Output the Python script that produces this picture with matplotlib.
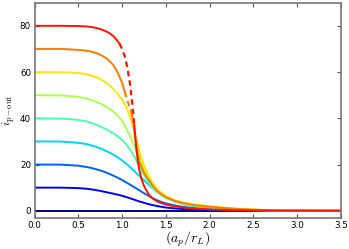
import matplotlib
matplotlib.use("Agg")
import matplotlib.pyplot as plt
import numpy as np

plt.rcParams["mathtext.fontset"] = "cm"

# plateau values of each curve
plateaus = [0, 10, 20, 30, 40, 50, 60, 70, 80]

# curve samples (x = a_p/r_L, y = i_p-out)
x_common = [0.0, 0.3, 0.5, 0.6, 0.65, 0.7, 0.75, 0.8, 0.85, 0.9, 0.95, 1.0, 1.05, 1.1, 1.15,
            1.2, 1.25, 1.3, 1.35, 1.4, 1.45, 1.5, 1.6, 1.7, 1.8, 1.9, 2.0, 2.2, 2.4, 2.6,
            2.8, 3.0, 3.25, 3.5]
y_0 = [0.0] * len(x_common)
y_10 = [10.0, 10.0, 9.8, 9.5, 9.25, 8.95, 8.6, 8.2, 7.8, 7.4, 6.95, 6.5, 5.9, 5.3, 4.65,
        4.0, 3.45, 2.9, 2.45, 2.05, 1.7, 1.4, 1.0, 0.75, 0.58, 0.47, 0.38, 0.24, 0.15, 0.09,
        0.05, 0.03, 0.01, 0.0]
y_20 = [20.0, 19.95, 19.5, 18.9, 18.5, 18.0, 17.45, 16.8, 16.05, 15.2, 14.3, 13.3, 12.2, 11.1, 9.95,
        8.8, 7.6, 6.5, 5.45, 4.55, 3.8, 3.2, 2.3, 1.65, 1.2, 0.9, 0.68, 0.4, 0.24, 0.14,
        0.08, 0.05, 0.02, 0.0]
y_30 = [30.0, 29.95, 29.4, 28.8, 28.3, 27.7, 27.0, 26.2, 25.3, 24.3, 23.1, 21.8, 20.3, 18.6, 16.8,
        15.0, 13.2, 11.4, 9.7, 8.2, 6.9, 5.8, 4.1, 2.9, 2.05, 1.5, 1.1, 0.6, 0.34, 0.19,
        0.1, 0.06, 0.03, 0.0]
y_40 = [40.0, 39.9, 39.3, 38.6, 38.0, 37.3, 36.5, 35.6, 34.6, 33.5, 32.2, 30.6, 28.6, 26.0, 22.7,
        18.9, 15.4, 12.4, 10.0, 8.1, 6.7, 5.6, 4.0, 2.9, 2.2, 1.7, 1.35, 0.8, 0.45, 0.25,
        0.14, 0.08, 0.03, 0.0]
y_50 = [50.0, 49.9, 49.3, 48.5, 47.9, 47.2, 46.4, 45.4, 44.3, 42.9, 41.2, 38.9, 35.5, 31.5, 27.1,
        22.6, 18.3, 14.6, 11.5, 9.0, 7.3, 6.0, 4.3, 3.3, 2.6, 2.1, 1.75, 1.05, 0.6, 0.33,
        0.18, 0.1, 0.04, 0.0]
y_60 = [60.0, 59.95, 59.6, 59.0, 58.5, 57.9, 57.0, 55.8, 54.4, 52.7, 50.6, 48.0, 44.6, 39.9, 33.0,
        25.2, 19.6, 15.3, 12.0, 9.5, 7.7, 6.4, 4.6, 3.6, 2.9, 2.4, 2.0, 1.2, 0.7, 0.38,
        0.2, 0.11, 0.05, 0.0]

x_70 = [0.0, 0.3, 0.5, 0.6, 0.65, 0.7, 0.75, 0.8, 0.85, 0.9, 0.95, 1.0, 1.03, 1.05, 1.07, 1.1,
        1.12, 1.14, 1.16, 1.18, 1.2, 1.25, 1.3, 1.35, 1.4, 1.45, 1.5, 1.6, 1.7, 1.8, 1.9, 2.0,
        2.2, 2.4, 2.6, 2.8, 3.0, 3.25, 3.5]
y_70 = [70.0, 70.0, 69.6, 69.2, 68.8, 68.3, 67.5, 66.5, 65.0, 63.0, 59.8, 55.3, 51.5, 49.0, 46.6, 43.4,
        40.0, 34.5, 28.7, 24.2, 20.9, 16.5, 13.5, 10.8, 8.7, 7.1, 5.9, 4.3, 3.3, 2.6, 2.1, 1.75,
        1.1, 0.62, 0.34, 0.19, 0.1, 0.04, 0.0]

x_80 = [0.0, 0.3, 0.5, 0.6, 0.65, 0.7, 0.75, 0.8, 0.85, 0.9, 0.93, 0.97, 1.0, 1.03, 1.06, 1.09,
        1.12, 1.14, 1.16, 1.18, 1.2, 1.22, 1.25, 1.3, 1.35, 1.4, 1.45, 1.5, 1.6, 1.7, 1.8, 1.9,
        2.0, 2.2, 2.4, 2.6, 2.8, 3.0, 3.25, 3.5]
y_80 = [80.0, 80.0, 79.9, 79.7, 79.5, 79.1, 78.6, 77.9, 77.0, 75.6, 74.3, 72.3, 70.0, 66.8, 62.0, 55.0,
        45.0, 37.0, 28.0, 21.5, 17.0, 14.0, 10.8, 7.3, 5.3, 4.1, 3.3, 2.7, 1.9, 1.4, 1.05, 0.8,
        0.6, 0.35, 0.2, 0.11, 0.06, 0.03, 0.01, 0.0]

curves_x = [x_common] * 7 + [x_70, x_80]
curves_y = [y_0, y_10, y_20, y_30, y_40, y_50, y_60, y_70, y_80]

# x-interval drawn dashed for each curve (by plateau)
dashed_interval = {70: (1.03, 1.10), 80: (0.97, 1.14)}

xticks = [0.0, 0.5, 1.0, 1.5, 2.0, 2.5, 3.0, 3.5]
yticks = [0, 20, 40, 60, 80]

fig = plt.figure(figsize=(3.49, 2.49), dpi=100)
ax = fig.add_axes([0.0989, 0.1257, 0.878, 0.8635])

cmap = plt.get_cmap("jet")
n = len(plateaus)
LW = 1.4
for i, (p, xs, ys) in enumerate(zip(plateaus, curves_x, curves_y)):
    xs = np.asarray(xs)
    ys = np.asarray(ys)
    c = cmap(i / n)
    if p in dashed_interval:
        a, b = dashed_interval[p]
        m1 = xs <= a + 1e-9
        m2 = (xs >= a - 1e-9) & (xs <= b + 1e-9)
        m3 = xs >= b - 1e-9
        ax.plot(xs[m1], ys[m1], color=c, lw=LW)
        ax.plot(xs[m2], ys[m2], color=c, lw=LW + 0.2, ls=(0, (2.5, 1.8)))
        ax.plot(xs[m3], ys[m3], color=c, lw=LW)
    else:
        ax.plot(xs, ys, color=c, lw=LW)

ax.set_xlim(0, 3.5)
ax.set_ylim(-3, 90)
ax.set_xticks(xticks)
ax.set_yticks(yticks)
ax.set_xticklabels([f"{t:.1f}" for t in xticks])
ax.tick_params(axis="both", direction="in", top=True, right=True, labelsize=6.3,
               length=3, width=0.8, color="#555555", pad=2.5)
for s in ax.spines.values():
    s.set_color("#777777")
    s.set_linewidth(1.2)
ax.set_xlabel(r"$(a_p/r_L)$", fontsize=10, labelpad=0)
ax.set_ylabel(r"$i_{\mathrm{p-out}}$", fontsize=8.5)
ax.yaxis.set_label_coords(-0.058, 0.5)

fig.savefig("out.png", dpi=100)
